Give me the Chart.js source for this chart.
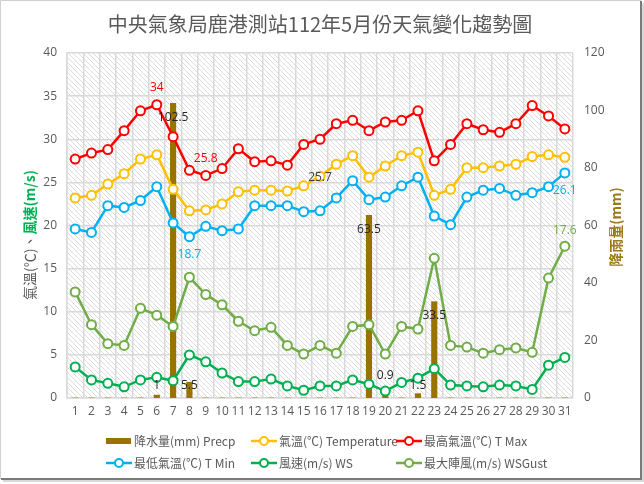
<!DOCTYPE html>
<html>
<head>
<meta charset="utf-8">
<script src="https://cdn.jsdelivr.net/npm/chart.js@4.4.1/dist/chart.umd.min.js"></script>
<style>
  html, body { margin: 0; padding: 0; background: #fff; }
  #wrap { position: relative; width: 644px; height: 484px; }
</style>
</head>
<body>
<div id="wrap"><canvas id="c" width="644" height="484"></canvas></div>
<script>
const days = Array.from({length: 31}, (_, i) => String(i + 1));
const precip = [0,0,0,0,0,1,102.5,5.5,0,0,0,0,0,0,0,0,0,0,63.5,0.9,0,1.5,33.5,0,0,0,0,0,0,0,0];
const tempAvg = [23.2,23.5,24.8,26.0,27.7,28.2,24.2,21.7,21.8,22.5,23.9,24.1,24.1,24.0,24.6,25.7,27.1,28.1,25.6,26.9,28.1,28.5,23.5,24.2,26.7,26.7,26.9,27.1,28.0,28.2,27.9];
const tempMax = [27.7,28.4,28.8,31.0,33.3,34.0,30.3,26.4,25.8,26.6,28.9,27.4,27.5,27.0,29.4,30.0,31.8,32.2,31.0,32.0,32.2,33.3,27.5,29.4,31.8,31.1,30.8,31.8,33.9,32.7,31.2];
const tempMin = [19.6,19.2,22.3,22.1,22.9,24.5,20.3,18.7,19.9,19.4,19.6,22.3,22.3,22.3,21.6,21.7,23.2,25.2,23.0,23.3,24.6,25.6,21.1,20.1,23.3,24.1,24.3,23.5,23.8,24.5,26.1];
const windSpeed = [3.6,2.1,1.7,1.3,2.1,2.4,2.0,5.0,4.2,2.9,1.9,1.9,2.2,1.4,0.9,1.4,1.4,2.1,1.6,0.8,1.8,2.3,3.4,1.5,1.4,1.3,1.5,1.4,1.0,3.8,4.7];
const windGust = [12.3,8.5,6.3,6.1,10.4,9.6,8.3,14.0,12.0,10.8,8.9,7.8,8.2,6.1,5.1,6.1,5.2,8.3,8.5,5.1,8.3,8.0,16.2,6.1,5.9,5.2,5.6,5.8,5.3,13.9,17.6];
const leftTicks = [0,5,10,15,20,25,30,35,40];
const rightTicks = [0,20,40,60,80,100,120];
// Days (1-based) whose values are labelled in the reference
const tMaxLabelDays = [6, 9];
const tAvgLabelDays = [16];
const tMinLabelDays = [8, 31];
const gustLabelDays = [31];

const FONT = '"Open Sans", "Noto Sans CJK TC", sans-serif';
const CJK = '"Noto Sans CJK TC", "Open Sans", sans-serif';
const GRAY = '#595959';
const C_PRECIP = '#997300', C_AVG = '#FFC000', C_MAX = '#FF0000', C_MIN = '#00B0F0', C_WS = '#00B050', C_GUST = '#70AD47';

function lineDs(label, data, color, order) {
  return {
    type: 'line', label, data, yAxisID: 'y', order,
    borderColor: color, backgroundColor: '#fff',
    borderWidth: 2.5, pointRadius: 4.5, pointBorderWidth: 2,
    pointBackgroundColor: '#fff', pointBorderColor: color, tension: 0
  };
}

// hatch pattern
const pc = document.createElement('canvas');
pc.width = 5; pc.height = 5;
const px = pc.getContext('2d');
px.fillStyle = '#fff'; px.fillRect(0, 0, 5, 5);
px.strokeStyle = '#dcdcdc'; px.lineWidth = 1;
px.beginPath();
px.moveTo(-1, -1); px.lineTo(6, 6);
px.moveTo(-1, 4); px.lineTo(1, 6);
px.moveTo(4, -1); px.lineTo(6, 1);
px.stroke();

const bgPlugin = {
  id: 'bg',
  beforeDraw(chart) {
    const {ctx, chartArea: a} = chart;
    ctx.save();
    ctx.fillStyle = '#fff';
    ctx.fillRect(0, 0, chart.width, chart.height);
    ctx.fillStyle = ctx.createPattern(pc, 'repeat');
    ctx.fillRect(a.left, a.top, a.right - a.left, a.bottom - a.top);
    ctx.restore();
  }
};

const labelPlugin = {
  id: 'labels',
  afterDatasetsDraw(chart) {
    const ctx = chart.ctx;
    ctx.save();
    ctx.font = '12px ' + FONT;
    ctx.textAlign = 'center';
    ctx.textBaseline = 'middle';
    // precipitation
    const mb = chart.getDatasetMeta(0);
    const mw = chart.getDatasetMeta(4);
    precip.forEach((v, i) => {
      if (v <= 0) return;
      const el = mb.data[i];
      let y = Math.min(el.y + 14, el.base - 12);
      const wy = mw.data[i].y;
      if (Math.abs(y - wy) < 7) y = wy - 16;
      ctx.fillStyle = '#262626';
      ctx.fillText(String(v), el.x, y);
    });
    const draw = (dsIndex, daysList, values, color, dy) => {
      const m = chart.getDatasetMeta(dsIndex);
      daysList.forEach(d => {
        const el = m.data[d - 1];
        ctx.fillStyle = color;
        ctx.fillText(String(values[d - 1]), el.x, el.y + dy);
      });
    };
    draw(2, tMaxLabelDays, tempMax, C_MAX, -17);
    draw(1, tAvgLabelDays, tempAvg, '#404040', 1);
    draw(3, tMinLabelDays, tempMin, C_MIN, 18);
    draw(5, gustLabelDays, windGust, C_GUST, -16);
    ctx.restore();
  }
};

const decoPlugin = {
  id: 'deco',
  afterDraw(chart) {
    const ctx = chart.ctx;
    ctx.save();
    // title
    ctx.fillStyle = GRAY;
    ctx.font = '20px ' + CJK;
    ctx.textAlign = 'center';
    ctx.textBaseline = 'middle';
    ctx.fillText('中央氣象局鹿港測站112年5月份天氣變化趨勢圖', 320, 24);

    // left axis title (two colours)
    const partA = '氣溫(℃)、', partB = '風速(m/s)';
    ctx.save();
    ctx.translate(30, 235);
    ctx.rotate(-Math.PI / 2);
    ctx.textBaseline = 'middle';
    ctx.textAlign = 'left';
    ctx.font = '14px ' + CJK;
    const wA = ctx.measureText(partA).width;
    ctx.font = 'bold 14px ' + CJK;
    const wB = ctx.measureText(partB).width;
    let sx = -(wA + wB) / 2;
    ctx.font = '14px ' + CJK;
    ctx.fillStyle = GRAY;
    ctx.fillText(partA, sx, 0);
    ctx.font = 'bold 14px ' + CJK;
    ctx.fillStyle = C_WS;
    ctx.fillText(partB, sx + wA, 0);
    ctx.restore();

    // right axis title
    ctx.save();
    ctx.translate(616, 227);
    ctx.rotate(-Math.PI / 2);
    ctx.textAlign = 'center';
    ctx.textBaseline = 'middle';
    ctx.font = 'bold 14px ' + CJK;
    ctx.fillStyle = '#9C7A1A';
    ctx.fillText('降雨量(mm)', 0, 0);
    ctx.restore();

    // legend
    const items = [
      {ds: 0, x: 106, y: 441}, {ds: 1, x: 251, y: 441}, {ds: 2, x: 396, y: 441},
      {ds: 3, x: 106, y: 463}, {ds: 4, x: 251, y: 463}, {ds: 5, x: 396, y: 463}
    ];
    ctx.font = '12px ' + CJK;
    ctx.textAlign = 'left';
    ctx.textBaseline = 'middle';
    items.forEach(it => {
      const ds = chart.data.datasets[it.ds];
      if (it.ds === 0) {
        ctx.fillStyle = ds.backgroundColor;
        ctx.fillRect(it.x, it.y - 3, 25, 6);
      } else {
        ctx.strokeStyle = ds.borderColor;
        ctx.lineWidth = 2.5;
        ctx.beginPath();
        ctx.moveTo(it.x, it.y); ctx.lineTo(it.x + 26, it.y);
        ctx.stroke();
        ctx.beginPath();
        ctx.arc(it.x + 13, it.y, 4, 0, Math.PI * 2);
        ctx.fillStyle = '#fff'; ctx.fill();
        ctx.lineWidth = 2; ctx.stroke();
      }
      ctx.fillStyle = GRAY;
      ctx.fillText(ds.label, it.x + 28, it.y);
    });

    // frame
    ctx.strokeStyle = '#d0d0d0'; ctx.lineWidth = 1;
    ctx.beginPath();
    ctx.moveTo(0.5, 479); ctx.lineTo(0.5, 0.5); ctx.lineTo(641, 0.5);
    ctx.stroke();
    ctx.strokeStyle = '#7a7a7a'; ctx.lineWidth = 2;
    ctx.beginPath();
    ctx.moveTo(641, 1); ctx.lineTo(641, 479); ctx.lineTo(1, 479);
    ctx.stroke();
    ctx.strokeStyle = 'rgba(0,0,0,0.15)'; ctx.lineWidth = 2;
    ctx.beginPath();
    ctx.moveTo(643, 3); ctx.lineTo(643, 481); ctx.lineTo(3, 481);
    ctx.stroke();
    ctx.restore();
  }
};

const chart = new Chart(document.getElementById('c'), {
  type: 'bar',
  data: {
    labels: days,
    datasets: [
      { type: 'bar', label: '降水量(mm) Precp', data: precip, yAxisID: 'y1', order: 10,
        backgroundColor: C_PRECIP, borderWidth: 0, barThickness: 5.5 },
      lineDs('氣溫(℃) Temperature', tempAvg, C_AVG, 5),
      lineDs('最高氣溫(℃) T Max', tempMax, C_MAX, 4),
      lineDs('最低氣溫(℃) T Min', tempMin, C_MIN, 3),
      lineDs('風速(m/s) WS', windSpeed, C_WS, 2),
      lineDs('最大陣風(m/s) WSGust', windGust, C_GUST, 1)
    ]
  },
  options: {
    responsive: false,
    animation: false,
    devicePixelRatio: 1,
    layout: { padding: { top: 53, left: 0, right: 0, bottom: 60 } },
    plugins: { legend: { display: false }, tooltip: { enabled: false }, title: { display: false } },
    scales: {
      x: {
        type: 'category', offset: true,
        grid: { offset: true, color: '#d9d9d9', lineWidth: 1.5, drawTicks: false },
        border: { color: '#d9d9d9', width: 1.5 },
        ticks: { color: GRAY, font: { size: 12, family: FONT }, padding: 6, maxRotation: 0, autoSkip: false },
        afterFit(s) { s.height = 26; }
      },
      y: {
        position: 'left', min: 0, max: 40,
        afterBuildTicks(s) { s.ticks = leftTicks.map(v => ({value: v})); },
        grid: { color: '#d9d9d9', lineWidth: 1.5, drawTicks: false },
        border: { color: '#d9d9d9', width: 1.5 },
        ticks: { color: GRAY, font: { size: 12, family: FONT }, padding: 10 },
        afterFit(s) { s.width = 67; }
      },
      y1: {
        position: 'right', min: 0, max: 120,
        afterBuildTicks(s) { s.ticks = rightTicks.map(v => ({value: v})); },
        grid: { display: false, drawTicks: false },
        border: { display: false },
        ticks: { color: GRAY, font: { size: 12, family: FONT }, padding: 11 },
        afterFit(s) { s.width = 71; }
      }
    }
  },
  plugins: [bgPlugin, labelPlugin, decoPlugin]
});
</script>
</body>
</html>
